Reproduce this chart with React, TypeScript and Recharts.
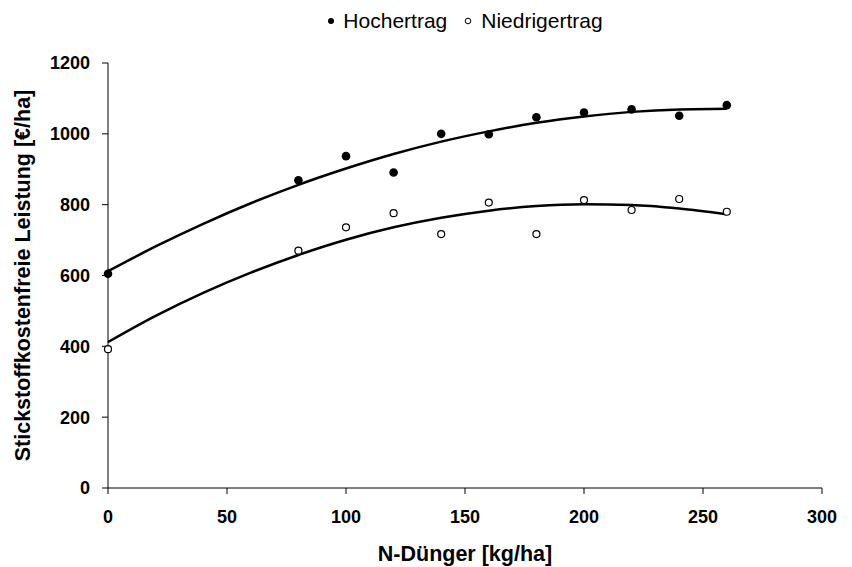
import {
  ComposedChart,
  Label,
  Line,
  Scatter,
  XAxis,
  YAxis,
} from "recharts";

// N-Dünger [kg/ha]
const nRates = [0, 80, 100, 120, 140, 160, 180, 200, 220, 240, 260];
const hochertrag = [605, 869, 937, 891, 1000, 999, 1047, 1060, 1069, 1051, 1081];
const niedrigertrag = [392, 670, 736, 776, 717, 806, 717, 813, 785, 816, 780];

// polynomial trend lines, every 20 kg/ha
const trendX = [0, 20, 40, 60, 80, 100, 120, 140, 160, 180, 200, 220, 240, 260];
const trendHoch = [612, 682, 746, 804, 856, 902, 943, 978, 1007, 1031, 1049, 1062, 1069, 1071];
const trendNiedrig = [412, 486, 551, 608, 658, 701, 736, 763, 783, 796, 801, 799, 789, 773];

const xTicks = [0, 50, 100, 150, 200, 250, 300];
const yTicks = [0, 200, 400, 600, 800, 1000, 1200];

const FONT = "'Liberation Sans', Arial, sans-serif";

const hochPoints = nRates.map((x, i) => ({ x, y: hochertrag[i] }));
const niedrigPoints = nRates.map((x, i) => ({ x, y: niedrigertrag[i] }));
const hochTrend = trendX.map((x, i) => ({ x, y: trendHoch[i] }));
const niedrigTrend = trendX.map((x, i) => ({ x, y: trendNiedrig[i] }));

const tickStyle = { fill: "#000", fontSize: 18, fontWeight: 700, fontFamily: FONT };

function FilledDot(props: any) {
  return <circle cx={props.cx} cy={props.cy} r={4.3} fill="#000" />;
}

function OpenDot(props: any) {
  return (
    <circle cx={props.cx} cy={props.cy} r={3.5} fill="#fff" stroke="#000" strokeWidth={1.2} />
  );
}

function YTitle(props: any) {
  const vb = props.viewBox || { x: 0, y: 0, width: 108, height: 425 };
  const x = vb.x + 23;
  const y = vb.y + vb.height / 2;
  return (
    <text
      x={x}
      y={y}
      transform={`rotate(-90 ${x} ${y})`}
      textAnchor="middle"
      dominantBaseline="central"
      fontFamily={FONT}
      fontWeight={700}
      fontSize={21.5}
      fill="#000"
    >
      Stickstoffkostenfreie Leistung [€/ha]
    </text>
  );
}

export default function App() {
  return (
    <div style={{ position: "absolute", left: 0, top: 0, width: 852, height: 567, background: "#fff" }}>
      <div
        style={{
          position: "absolute",
          left: 108,
          width: 714,
          top: 9,
          display: "flex",
          justifyContent: "center",
          alignItems: "center",
          fontFamily: FONT,
          fontSize: 21,
          color: "#000",
          gap: 8,
          lineHeight: "24px",
        }}
      >
        <svg width={8} height={8}>
          <circle cx={4} cy={4} r={3} fill="#000" />
        </svg>
        <span>Hochertrag</span>
        <svg width={10} height={8} style={{ marginLeft: 8 }}>
          <circle cx={5} cy={4} r={2.8} fill="#fff" stroke="#000" strokeWidth={1} />
        </svg>
        <span>Niedrigertrag</span>
      </div>
      <ComposedChart
        width={852}
        height={567}
        margin={{ top: 63, right: 30, bottom: 0, left: 0 }}
      >
        <XAxis
          type="number"
          dataKey="x"
          domain={[0, 300]}
          ticks={xTicks}
          height={79}
          tickSize={6}
          tickMargin={16}
          stroke="#000"
          tick={tickStyle}
        >
          <Label
            value="N-Dünger [kg/ha]"
            position="insideBottom"
            offset={6}
            style={{ fill: "#000", fontSize: 21.5, fontWeight: 700, fontFamily: FONT }}
          />
        </XAxis>
        <YAxis
          type="number"
          dataKey="y"
          domain={[0, 1200]}
          ticks={yTicks}
          width={108}
          tickSize={6}
          tickMargin={12}
          stroke="#000"
          tick={tickStyle}
        >
          <Label content={YTitle} />
        </YAxis>
        <Line
          data={hochTrend}
          dataKey="y"
          type="monotone"
          stroke="#000"
          strokeWidth={2.5}
          dot={false}
          isAnimationActive={false}
        />
        <Line
          data={niedrigTrend}
          dataKey="y"
          type="monotone"
          stroke="#000"
          strokeWidth={2.5}
          dot={false}
          isAnimationActive={false}
        />
        <Scatter data={hochPoints} dataKey="y" shape={FilledDot} isAnimationActive={false} />
        <Scatter data={niedrigPoints} dataKey="y" shape={OpenDot} isAnimationActive={false} />
      </ComposedChart>
    </div>
  );
}
